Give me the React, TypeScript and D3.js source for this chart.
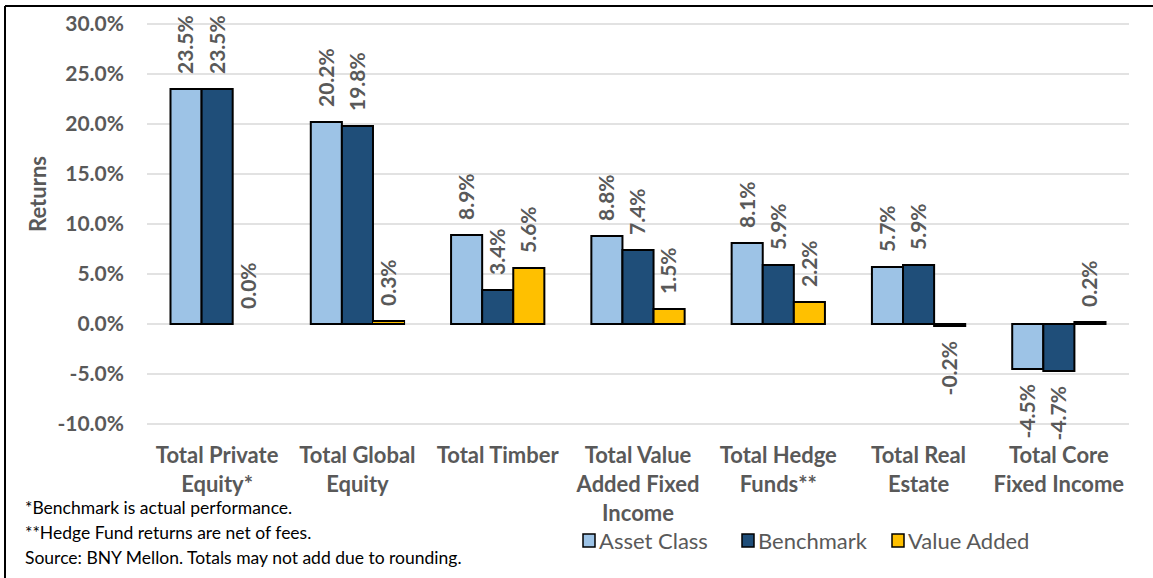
import * as d3 from "d3";
import { useEffect, useRef } from "react";

const categories = [
  ["Total Private", "Equity*"],
  ["Total Global", "Equity"],
  ["Total Timber"],
  ["Total Value", "Added Fixed", "Income"],
  ["Total Hedge", "Funds**"],
  ["Total Real", "Estate"],
  ["Total Core", "Fixed Income"],
];
const seriesNames = ["Asset Class", "Benchmark", "Value Added"];
const assetClass = [23.5, 20.2, 8.9, 8.8, 8.1, 5.7, -4.5];
const benchmark = [23.5, 19.8, 3.4, 7.4, 5.9, 5.9, -4.7];
const valueAdded = [0.0, 0.3, 5.6, 1.5, 2.2, -0.2, 0.2];
const yTicks = [-10, -5, 0, 5, 10, 15, 20, 25, 30];
const footnotes = [
  "*Benchmark is actual performance.",
  "**Hedge Fund returns are net of fees.",
  "Source: BNY Mellon. Totals may not add due to rounding.",
];

const colors = ["#9DC3E6", "#1F4E79", "#FFC000"];
const font = "Lato, 'Open Sans', sans-serif";
const grey = "#595959";
const pct = (v: number) => v.toFixed(1) + "%";

export default function App() {
  const svgRef = useRef<SVGSVGElement | null>(null);

  useEffect(() => {
    if (!svgRef.current) return;
    const svg = d3.select(svgRef.current);
    svg.selectAll("*").remove();

    const width = 1153;
    const height = 578;
    const left = 147;
    const right = 1129;
    const series = [assetClass, benchmark, valueAdded];

    svg.attr("width", width).attr("height", height).style("font-family", font);

    // frame
    svg.append("line").attr("x1", 5).attr("x2", width).attr("y1", 6).attr("y2", 6)
      .attr("stroke", "#000").attr("stroke-width", 2);
    svg.append("line").attr("x1", 5).attr("x2", 5).attr("y1", 6).attr("y2", height)
      .attr("stroke", "#000").attr("stroke-width", 2);

    const x = d3.scaleBand<number>()
      .domain(d3.range(categories.length))
      .range([left, right])
      .paddingInner(0.335)
      .paddingOuter(0.1675);

    const xs = d3.scaleBand<number>()
      .domain(d3.range(series.length))
      .range([0, x.bandwidth()]);

    const y = d3.scaleLinear().domain([-10, 30]).range([424, 24]);

    // grid
    svg.append("g").selectAll("line").data(yTicks).enter().append("line")
      .attr("x1", left).attr("x2", right)
      .attr("y1", d => y(d)).attr("y2", d => y(d))
      .attr("stroke", "#d9d9d9").attr("stroke-width", 1.5);

    // y tick labels
    svg.append("g").selectAll("text").data(yTicks).enter().append("text")
      .attr("x", 124).attr("y", d => y(d))
      .attr("dy", "0.35em")
      .attr("text-anchor", "end")
      .attr("font-size", 21).attr("font-weight", "bold").attr("fill", grey)
      .text(d => pct(d));

    // y title
    svg.append("text")
      .attr("transform", `translate(38,194) rotate(-90)`)
      .attr("dy", "0.35em")
      .attr("text-anchor", "middle")
      .attr("font-size", 22).attr("font-weight", "bold").attr("fill", grey)
      .text("Returns");

    // bars + labels
    series.forEach((vals, si) => {
      const g = svg.append("g");
      g.selectAll("rect").data(vals).enter().append("rect")
        .attr("x", (_, i) => x(i)! + xs(si)!)
        .attr("y", d => y(Math.max(0, d)))
        .attr("width", xs.bandwidth())
        .attr("height", d => Math.abs(y(d) - y(0)))
        .attr("fill", colors[si])
        .attr("stroke", "#000").attr("stroke-width", 2);

      g.selectAll("text").data(vals).enter().append("text")
        .attr("transform", (d, i) => {
          const cx = x(i)! + xs(si)! + xs.bandwidth() / 2;
          const cy = d >= 0 ? y(d) - 15 : y(d) + 15;
          return `translate(${cx},${cy}) rotate(-90)`;
        })
        .attr("dy", "0.35em")
        .attr("text-anchor", d => (d >= 0 ? "start" : "end"))
        .attr("font-size", 21).attr("font-weight", "bold").attr("fill", grey)
        .text(d => pct(d));
    });

    // category labels
    const cat = svg.append("g").selectAll("text").data(categories).enter().append("text")
      .attr("x", (_, i) => x(i)! + x.bandwidth() / 2)
      .attr("y", 463)
      .attr("text-anchor", "middle")
      .attr("font-size", 22).attr("font-weight", "bold").attr("fill", grey);
    cat.each(function (lines) {
      const t = d3.select(this);
      lines.forEach((ln, li) => {
        t.append("tspan")
          .attr("x", t.attr("x"))
          .attr("dy", li === 0 ? 0 : 29)
          .text(ln);
      });
    });

    // legend
    const legendX = [583, 742, 892];
    const lg = svg.append("g").selectAll("g").data(seriesNames).enter().append("g")
      .attr("transform", (_, i) => `translate(${legendX[i]},534)`);
    lg.append("rect").attr("width", 12).attr("height", 13)
      .attr("fill", (_, i) => colors[i]).attr("stroke", "#000").attr("stroke-width", 1.5);
    lg.append("text").attr("x", 16).attr("y", 7).attr("dy", "0.35em")
      .attr("font-size", 22).attr("fill", grey)
      .text(d => d);

    // footnotes
    svg.append("g").selectAll("text").data(footnotes).enter().append("text")
      .attr("x", 25).attr("y", (_, i) => 514 + i * 25)
      .attr("font-size", 17.5).attr("fill", "#000")
      .text(d => d);
  }, []);

  return (
    <>
      <style>{`body{margin:0;background:#fff}`}</style>
      <svg ref={svgRef} style={{ display: "block" }}></svg>
    </>
  );
}
